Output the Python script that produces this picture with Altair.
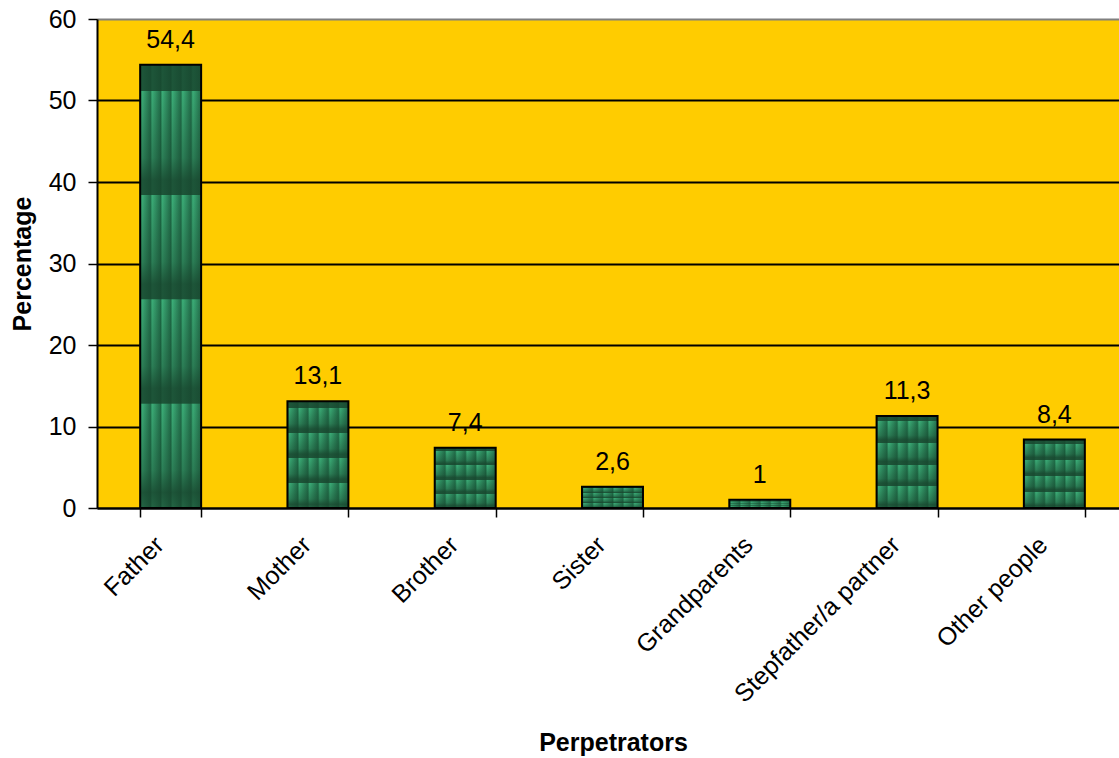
import altair as alt
import pandas as pd

categories = ["Father", "Mother", "Brother", "Sister", "Grandparents",
              "Stepfather/a partner", "Other people"]
values = [54.4, 13.1, 7.4, 2.6, 1, 11.3, 8.4]
labels = ["54,4", "13,1", "7,4", "2,6", "1", "11,3", "8,4"]
y_ticks = [0, 10, 20, 30, 40, 50, 60]

df = pd.DataFrame({"cat": categories, "val": values, "lab": labels})

FONT = "Liberation Sans"

# vertical stripes texture (horizontal gradient)
stripe_stops = []
for i in range(6):
    a = i / 6
    b = (i + 1) / 6
    stripe_stops += [
        {"offset": a, "color": "#1d6a45"},
        {"offset": a + 0.03, "color": "#3cae78"},
        {"offset": b - 0.005, "color": "#236f4b"},
    ]
stripe_grad = {"gradient": "linear", "x1": 0, "x2": 1, "y1": 0, "y2": 0,
               "stops": stripe_stops}

# horizontal rows texture (vertical gradient overlay)
dark = "rgba(24,70,46,0.85)"
row_stops = [{"offset": 0, "color": dark}]
for s in [0.06, 0.295, 0.53, 0.765]:
    row_stops += [
        {"offset": s - 0.001, "color": dark},
        {"offset": s, "color": "rgba(24,70,46,0)"},
        {"offset": s + 0.15, "color": "rgba(24,70,46,0.45)"},
        {"offset": s + 0.2, "color": dark},
    ]
row_stops += [{"offset": 1, "color": "rgba(24,70,46,0.7)"}]
row_grad = {"gradient": "linear", "x1": 0, "x2": 0, "y1": 0, "y2": 1,
            "stops": row_stops}

x_enc = alt.X(
    "cat:N", sort=categories,
    scale=alt.Scale(range=[0, 1031], paddingInner=0.586, paddingOuter=0.293),
    axis=alt.Axis(
        title="Perpetrators", titleFont=FONT, titleFontSize=25,
        titleFontWeight="bold", titleColor="black",
        titleX=516, titleY=242, titleBaseline="alphabetic", titleAlign="center",
        labelAngle=315, labelFont=FONT, labelFontSize=25, labelColor="black",
        labelPadding=15, labelOffset=-20, labelLimit=0,
        tickBand="extent", tickColor="black", tickSize=9, tickWidth=1.5,
        domainColor="black", domainWidth=2, grid=False,
    ),
)
y_enc = alt.Y(
    "val:Q",
    scale=alt.Scale(domain=[0, 60]),
    axis=alt.Axis(
        values=y_ticks, title="Percentage", titleFont=FONT, titleFontSize=25,
        titleFontWeight="bold", titleColor="black",
        titleX=-75, titleY=244.5, titleAngle=270, titleBaseline="middle",
        titleAlign="center",
        labelFont=FONT, labelFontSize=25, labelColor="black", labelPadding=12,
        tickColor="black", tickSize=9, tickWidth=1.5,
        domainColor="black", domainWidth=2,
        grid=True, gridWidth=1.8,
        gridColor={"condition": {"test": "datum.value == 60", "value": "#808080"},
                   "value": "black"},
    ),
)

base = alt.Chart(df).encode(x=x_enc, y=y_enc)

bars1 = base.mark_bar(fill=stripe_grad)
bars2 = base.mark_bar(fill=row_grad, stroke="black", strokeWidth=2)
text = base.mark_text(dy=-17, baseline="alphabetic", fontSize=25, font=FONT,
                      color="black").encode(text="lab:N")

chart = (
    alt.layer(bars1, bars2, text)
    .properties(width=1022, height=489, autosize="none",
                padding={"left": 97, "top": 19, "right": 0, "bottom": 250},
                background="white")
    .configure_view(fill="#FFCC00", strokeWidth=0)
)

chart.save("out.html", embed_options={"renderer": "svg", "actions": False})
